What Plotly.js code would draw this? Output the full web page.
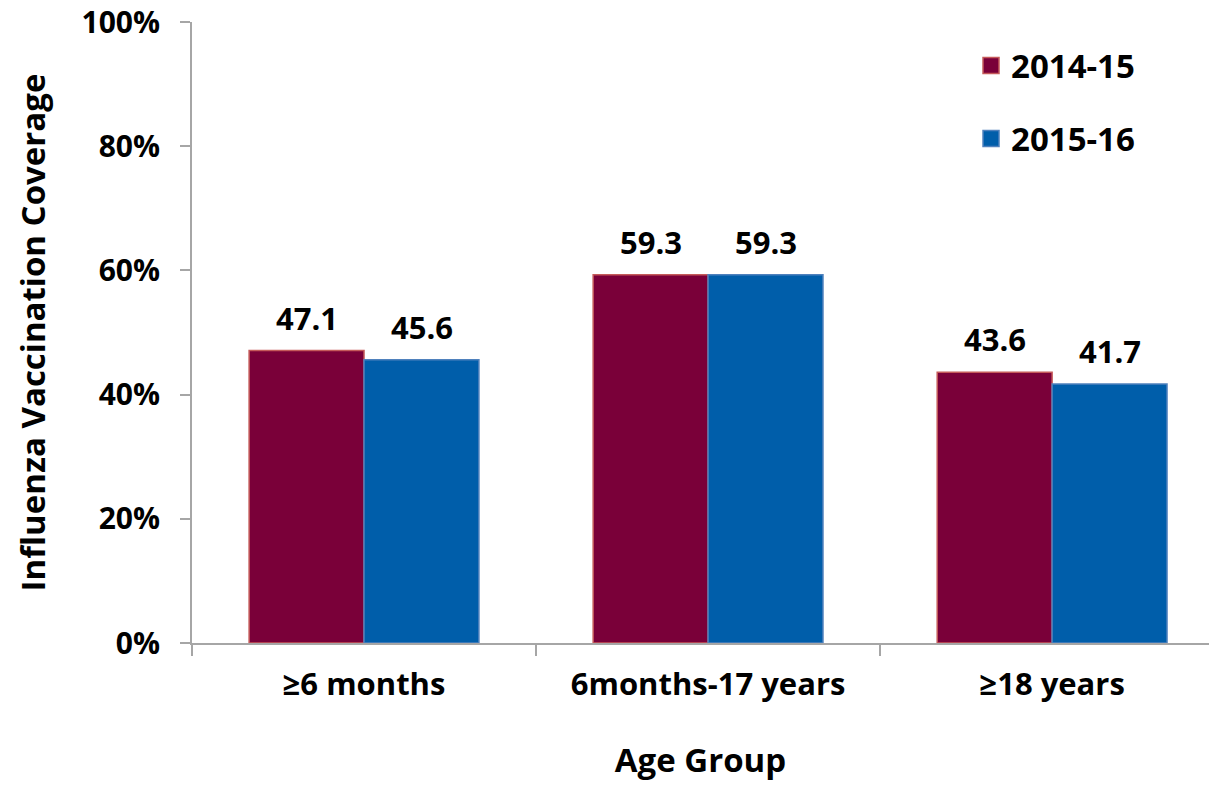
<!DOCTYPE html>
<html>
<head>
<meta charset="utf-8">
<script src="https://cdn.plot.ly/plotly-3.0.1.min.js"></script>
<style>html,body{margin:0;padding:0;background:#fff;overflow:hidden}</style>
</head>
<body>
<div id="chart" style="width:1209px;height:786px"></div>
<script>
const categories = ['≥6 months', '6months-17 years', '≥18 years'];
const seriesNames = ['2014-15', '2015-16'];
const values2014 = [47.1, 59.3, 43.6];
const values2015 = [45.6, 59.3, 41.7];
const yTickVals = [0, 20, 40, 60, 80, 100];
const yTickText = ['0%', '20%', '40%', '60%', '80%', '100%'];

const FONT = 'Open Sans, Noto Sans, sans-serif';
const colors = ['#7A0039', '#005EAA'];
const borders = ['#C55A5A', '#4F81BD'];
const allValues = [values2014, values2015];

const traces = allValues.map((vals, i) => ({
  type: 'bar',
  name: seriesNames[i],
  x: categories,
  y: vals,
  marker: {color: colors[i], line: {color: borders[i], width: 1.5}},
  showlegend: false,
  hoverinfo: 'x+y'
}));
// legend proxies with large square symbols
seriesNames.forEach((n, i) => {
  traces.push({
    type: 'scatter', mode: 'markers', name: n,
    x: [null], y: [null],
    legendgroup: 'g' + i,
    marker: {symbol: 'square', size: 21, color: colors[i], line: {color: borders[i], width: 1.5}},
    showlegend: true
  });
});

const annotations = [];
allValues.forEach((vals, i) => {
  vals.forEach((v, j) => {
    annotations.push({
      x: categories[j], y: v, xref: 'x', yref: 'y',
      xshift: i === 0 ? -57.5 : 57.5, yshift: 10,
      yanchor: 'bottom', showarrow: false,
      text: v.toFixed(1),
      font: {family: FONT, size: 31, color: '#000', weight: 700}
    });
  });
});

const layout = {
  width: 1209, height: 786,
  margin: {l: 192, r: 0, t: 22, b: 143},
  paper_bgcolor: '#fff', plot_bgcolor: '#fff',
  barmode: 'group', bargap: 0.332, bargroupgap: 0,
  font: {family: FONT, color: '#000'},
  xaxis: {
    type: 'category',
    range: [-0.5, 2.456],
    showline: true, linecolor: '#A6A6A6', linewidth: 2,
    ticks: 'outside', tickson: 'boundaries', ticklen: 11, tickcolor: '#A6A6A6', tickwidth: 2,
    tickfont: {family: FONT, size: 31, color: '#000', weight: 700},
    ticklabelstandoff: 13,
    showgrid: false, zeroline: false, automargin: false,
    title: {text: 'Age Group', font: {family: FONT, size: 33, color: '#000', weight: 700}, standoff: 46}
  },
  yaxis: {
    range: [0, 100],
    tickvals: yTickVals, ticktext: yTickText,
    showline: true, linecolor: '#A6A6A6', linewidth: 2,
    ticks: 'outside', ticklen: 10, tickcolor: '#A6A6A6', tickwidth: 2,
    tickfont: {family: FONT, size: 30, color: '#000', weight: 700},
    ticklabelstandoff: 14,
    showgrid: false, zeroline: false, automargin: false,
    title: {text: 'Influenza Vaccination Coverage', font: {family: FONT, size: 33, color: '#000', weight: 700}, standoff: 26}
  },
  legend: {
    x: 0.766, y: 0.975, xanchor: 'left', yanchor: 'top',
    bgcolor: 'rgba(0,0,0,0)',
    font: {family: FONT, size: 33, color: '#000', weight: 700},
    traceorder: 'grouped', tracegroupgap: 27
  },
  annotations: annotations,
  showlegend: true
};

Plotly.newPlot('chart', traces, layout, {displayModeBar: false, staticPlot: true});
</script>
</body>
</html>
